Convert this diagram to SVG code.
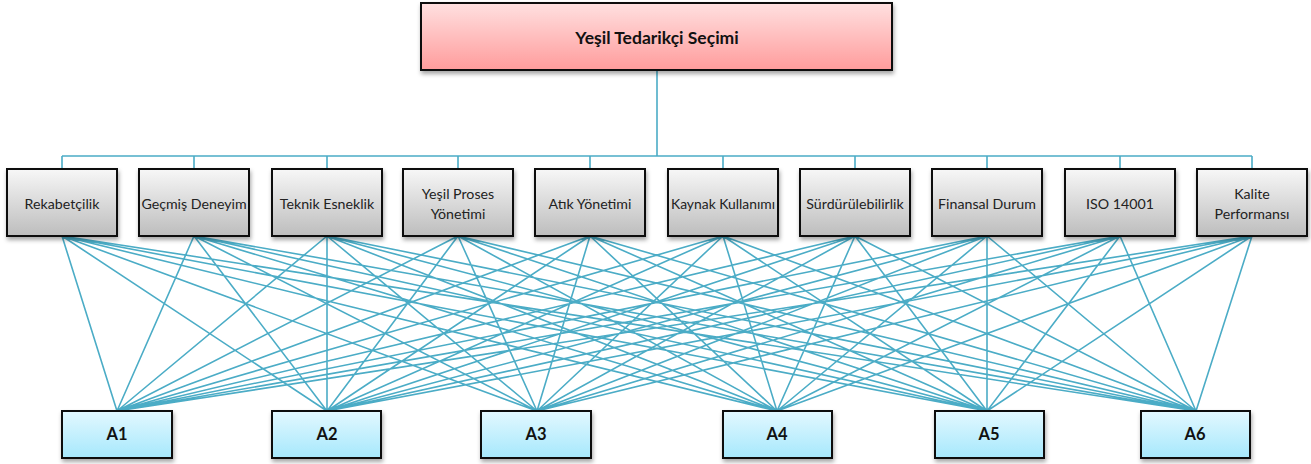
<svg xmlns="http://www.w3.org/2000/svg" width="1311" height="464" viewBox="0 0 1311 464">
<defs>
<linearGradient id="gTop" x1="0" y1="0" x2="0" y2="1"><stop offset="0" stop-color="#FFE0E0"/><stop offset="1" stop-color="#FF9C9C"/></linearGradient>
<linearGradient id="gCrit" x1="0" y1="0" x2="0" y2="1"><stop offset="0" stop-color="#F7F7F7"/><stop offset="1" stop-color="#BDBDBD"/></linearGradient>
<linearGradient id="gAlt" x1="0" y1="0" x2="0" y2="1"><stop offset="0" stop-color="#E3F8FF"/><stop offset="1" stop-color="#A6E8FC"/></linearGradient>
<filter id="sh" x="-10%" y="-10%" width="120%" height="130%"><feDropShadow dx="1" dy="3" stdDeviation="2" flood-color="#000" flood-opacity="0.35"/></filter>
</defs>
<style>
.box{stroke:#111;stroke-width:2;filter:url(#sh)}
.t{font-family:Lato,"Noto Sans",sans-serif;font-size:14.2px;fill:#222;text-anchor:middle;dominant-baseline:central}
.b{font-family:Lato,"Noto Sans",sans-serif;font-weight:bold;fill:#111;text-anchor:middle;dominant-baseline:central}
.c{stroke:#4BACC6;stroke-width:1.6;fill:none}
</style>
<g id="connectors" class="c">
<path d="M657 70V156M62 156H1252M62 156V169M194 156V169M327 156V169M458 156V169M590 156V169M723 156V169M855 156V169M987 156V169M1120 156V169M1252 156V169"/>
<path d="M62 236L117 411M62 236L327 411M62 236L537 411M62 236L777 411M62 236L987 411M62 236L1196 411
M194 236L117 411M194 236L327 411M194 236L537 411M194 236L777 411M194 236L987 411M194 236L1196 411
M327 236L117 411M327 236L327 411M327 236L537 411M327 236L777 411M327 236L987 411M327 236L1196 411
M458 236L117 411M458 236L327 411M458 236L537 411M458 236L777 411M458 236L987 411M458 236L1196 411
M590 236L117 411M590 236L327 411M590 236L537 411M590 236L777 411M590 236L987 411M590 236L1196 411
M723 236L117 411M723 236L327 411M723 236L537 411M723 236L777 411M723 236L987 411M723 236L1196 411
M855 236L117 411M855 236L327 411M855 236L537 411M855 236L777 411M855 236L987 411M855 236L1196 411
M987 236L117 411M987 236L327 411M987 236L537 411M987 236L777 411M987 236L987 411M987 236L1196 411
M1120 236L117 411M1120 236L327 411M1120 236L537 411M1120 236L777 411M1120 236L987 411M1120 236L1196 411
M1252 236L117 411M1252 236L327 411M1252 236L537 411M1252 236L777 411M1252 236L987 411M1252 236L1196 411"/>
</g>
<g id="goal"><rect class="box" x="421" y="3" width="471" height="67" fill="url(#gTop)"/><text class="b" x="657" y="37" font-size="17.5">Yeşil Tedarikçi Seçimi</text></g>
<g id="c1"><rect class="box" x="7" y="169" width="110" height="67" fill="url(#gCrit)"/><text class="t" x="62" y="203">Rekabetçilik</text></g>
<g id="c2"><rect class="box" x="139" y="169" width="110" height="67" fill="url(#gCrit)"/><text class="t" x="194" y="203">Geçmiş Deneyim</text></g>
<g id="c3"><rect class="box" x="272" y="169" width="110" height="67" fill="url(#gCrit)"/><text class="t" x="327" y="203">Teknik Esneklik</text></g>
<g id="c4"><rect class="box" x="403" y="169" width="110" height="67" fill="url(#gCrit)"/><text class="t" x="458" y="193">Yeşil Proses</text><text class="t" x="458" y="213">Yönetimi</text></g>
<g id="c5"><rect class="box" x="535" y="169" width="110" height="67" fill="url(#gCrit)"/><text class="t" x="590" y="203">Atık Yönetimi</text></g>
<g id="c6"><rect class="box" x="668" y="169" width="110" height="67" fill="url(#gCrit)"/><text class="t" x="723" y="203" textLength="104" lengthAdjust="spacingAndGlyphs">Kaynak Kullanımı</text></g>
<g id="c7"><rect class="box" x="800" y="169" width="110" height="67" fill="url(#gCrit)"/><text class="t" x="855" y="203">Sürdürülebilirlik</text></g>
<g id="c8"><rect class="box" x="932" y="169" width="110" height="67" fill="url(#gCrit)"/><text class="t" x="987" y="203">Finansal Durum</text></g>
<g id="c9"><rect class="box" x="1065" y="169" width="110" height="67" fill="url(#gCrit)"/><text class="t" x="1120" y="203">ISO 14001</text></g>
<g id="c10"><rect class="box" x="1197" y="169" width="110" height="67" fill="url(#gCrit)"/><text class="t" x="1252" y="193">Kalite</text><text class="t" x="1252" y="213">Performansı</text></g>
<g id="a1"><rect class="box" x="62" y="411" width="110" height="47" fill="url(#gAlt)"/><text class="b" x="117" y="434" font-size="16.5">A1</text></g>
<g id="a2"><rect class="box" x="272" y="411" width="109" height="47" fill="url(#gAlt)"/><text class="b" x="327" y="434" font-size="16.5">A2</text></g>
<g id="a3"><rect class="box" x="481" y="411" width="110" height="47" fill="url(#gAlt)"/><text class="b" x="536" y="434" font-size="16.5">A3</text></g>
<g id="a4"><rect class="box" x="723" y="411" width="109" height="47" fill="url(#gAlt)"/><text class="b" x="777" y="434" font-size="16.5">A4</text></g>
<g id="a5"><rect class="box" x="935" y="411" width="109" height="47" fill="url(#gAlt)"/><text class="b" x="989" y="434" font-size="16.5">A5</text></g>
<g id="a6"><rect class="box" x="1141" y="411" width="109" height="47" fill="url(#gAlt)"/><text class="b" x="1195" y="434" font-size="16.5">A6</text></g>
</svg>
